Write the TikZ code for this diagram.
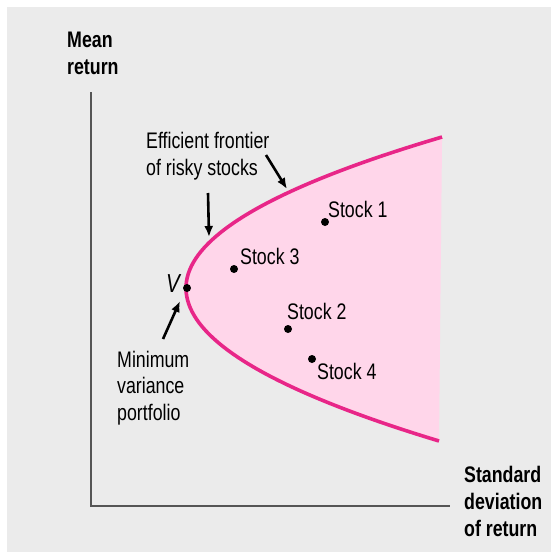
\documentclass[tikz,border=0pt]{standalone}
\usepackage{fontspec}
\setmainfont[FakeStretch=0.79]{Liberation Sans}
\usepackage{tikz}
\usetikzlibrary{positioning}
\usetikzlibrary{arrows.meta}
\definecolor{bggray}{RGB}{235,235,235}
\definecolor{axisgray}{RGB}{85,85,85}
\definecolor{frontier}{RGB}{232,38,136}
\definecolor{regionpink}{RGB}{255,214,234}

\begin{document}
\begin{tikzpicture}[x=1pt,y=-1pt,
  lbl/.style={inner sep=0pt, anchor=base west, align=left, font=\fontsize{22.5}{26.5}\selectfont},
  axlbl/.style={lbl, font=\fontsize{22.5}{27}\selectfont\bfseries},
  dot/.style={circle, fill=black, inner sep=0pt, minimum size=8pt},
  pointer/.style={line width=2.6pt, -{Latex[length=11pt,width=9pt]}}]
\useasboundingbox (0,0) rectangle (551,552);
\fill[bggray] (7,7) rectangle (551,552);
% axes
\coordinate (ytop) at (91,92);
\coordinate (o) at (91,506);
\coordinate (xend) at (450,506);
\draw[axisgray, line width=2pt] (ytop) -- (o) -- (xend);
\node[axlbl] (ylab) at (67,74) {Mean\\return};
\node[axlbl] (xlab) at (464,536) {Standard\\deviation\\of return};
% feasible region and frontier
\fill[regionpink] plot[domain=-15.1:15.3, samples=81]
  ({186+(\x<0 ? 1.123 : 1.081)*\x*\x}, {288+10*\x}) -- cycle;
\draw[frontier, line width=3.6pt] plot[domain=-15.1:15.3, samples=81]
  ({186+(\x<0 ? 1.123 : 1.081)*\x*\x}, {288+10*\x});
% stocks
\node[dot] (v) at (187,288) {};
\node[lbl, font=\fontsize{26}{26}\selectfont\itshape] (vlab) at (166,292) {V};
\foreach \n/\px/\py/\lx/\ly in {1/325/222/328/217, 3/234/269/240/264,
                                2/288/329/287/319, 4/312/359/317/379} {
  \node[dot] (s\n) at (\px,\py) {};
  \node[lbl] (s\n lab) at (\lx,\ly) {Stock \n};
}
% annotations
\node[lbl] (eff) at (146,175) {Efficient frontier\\of risky stocks};
\node[lbl] (minvar) at (117,420) {Minimum\\variance\\portfolio};
\coordinate (p1s) at (266,155);
\coordinate (p1e) at (287,189);
\coordinate (p2s) at (208,193);
\coordinate (p2e) at (209,237);
\coordinate (p3s) at (163,339);
\coordinate (p3e) at (180,301);
\draw[pointer] (p1s) -- (p1e);
\draw[pointer] (p2s) -- (p2e);
\draw[pointer] (p3s) -- (p3e);
\end{tikzpicture}
\end{document}
